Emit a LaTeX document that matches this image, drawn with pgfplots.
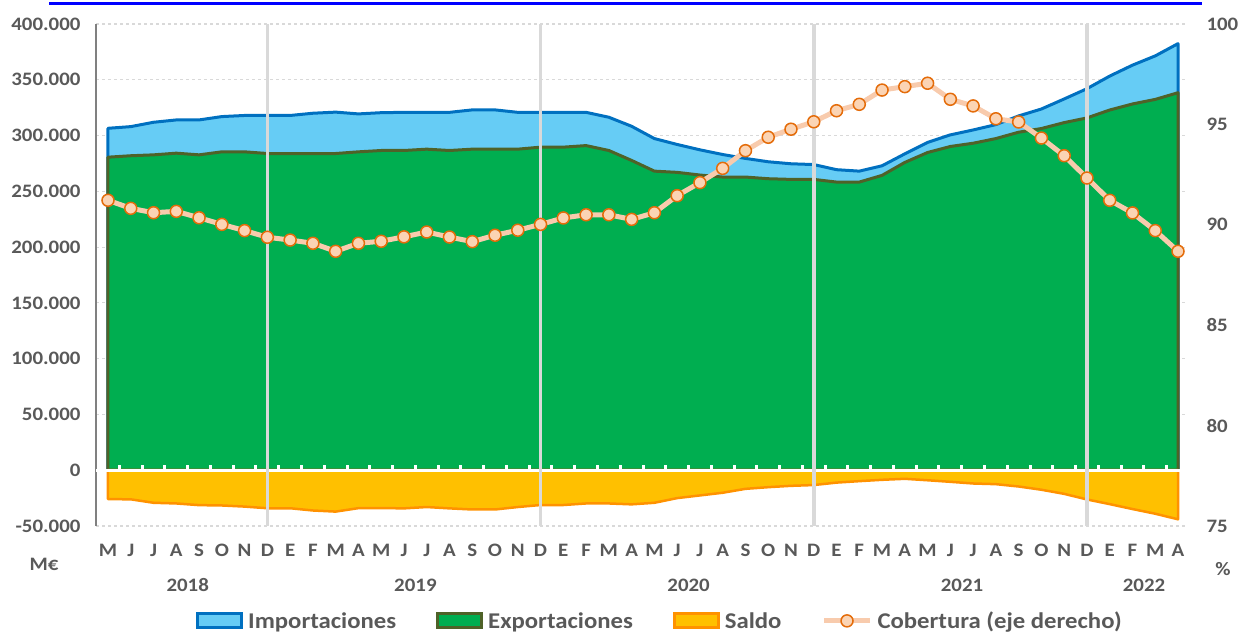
\documentclass[border=0pt]{standalone}
\usepackage{pgfplots}
\pgfplotsset{compat=1.18}
\usepackage{pgfplotstable}
\usepackage{fontspec}
\setmainfont{Carlito}[FakeStretch=1.1]

\definecolor{txt}{HTML}{595959}
\definecolor{impfill}{HTML}{66CCF5}
\definecolor{impline}{HTML}{0070C0}
\definecolor{expfill}{HTML}{00AE50}
\definecolor{expline}{HTML}{4F6228}
\definecolor{salfill}{HTML}{FFC000}
\definecolor{salline}{HTML}{FF9200}
\definecolor{cobline}{HTML}{F8CBAD}
\definecolor{cobfill}{HTML}{FBD4B4}
\definecolor{cobmark}{HTML}{E46C0A}
\definecolor{gridc}{HTML}{D9D9D9}

\pgfplotsset{
  coblegend/.style={legend image code/.code={%
    \draw[mark repeat=2,mark phase=2,##1] plot coordinates {(0pt,0pt) (23pt,0pt) (46pt,0pt)};}},
  boxlegend/.style={legend image code/.code={%
    \draw[##1] (0pt,-7pt) rectangle (44pt,7pt);}},
}

% miles de M€ ; cobertura en %
\pgfplotstableread{
x imp exp saldo cob
0 306.5 280.6 -25.9 91.22
1 308.0 281.9 -26.1 90.82
2 311.9 282.7 -29.2 90.60
3 314.0 284.2 -29.8 90.67
4 314.0 282.7 -31.3 90.35
5 317.0 285.4 -31.6 90.02
6 318.0 285.4 -32.6 89.71
7 318.0 283.9 -34.1 89.38
8 318.0 283.9 -34.1 89.24
9 320.0 283.9 -36.1 89.08
10 321.0 283.9 -37.1 88.68
11 319.4 285.4 -34.0 89.08
12 320.5 286.6 -33.9 89.18
13 320.8 286.6 -34.2 89.40
14 320.8 287.8 -33.0 89.64
15 320.8 286.6 -34.2 89.39
16 323.0 287.8 -35.2 89.16
17 323.0 287.8 -35.2 89.48
18 320.8 287.8 -33.0 89.73
19 320.8 289.6 -31.2 90.02
20 320.8 289.6 -31.2 90.34
21 320.8 291.0 -29.8 90.50
22 316.4 286.6 -29.8 90.50
23 308.3 277.7 -30.6 90.27
24 297.3 268.1 -29.2 90.60
25 292.0 267.0 -25.0 91.45
26 287.2 264.6 -22.6 92.10
27 283.0 262.8 -20.2 92.81
28 279.5 262.8 -16.7 93.69
29 276.5 261.3 -15.2 94.36
30 274.7 260.7 -14.0 94.76
31 274.0 260.7 -13.3 95.13
32 269.4 258.3 -11.1 95.68
33 268.1 258.3 -9.8 96.00
34 272.9 264.3 -8.6 96.71
35 283.6 275.9 -7.7 96.88
36 293.8 284.8 -9.0 97.05
37 300.6 290.2 -10.4 96.25
38 305.0 293.1 -11.9 95.92
39 309.8 297.3 -12.5 95.28
40 317.6 303.0 -14.6 95.12
41 323.8 306.3 -17.5 94.32
42 332.8 311.6 -21.2 93.44
43 342.0 315.8 -26.2 92.33
44 353.3 322.9 -30.4 91.22
45 363.1 328.3 -34.8 90.59
46 371.4 332.4 -39.0 89.71
47 382.4 338.4 -44.0 88.68
}\datatable

\begin{document}
\begin{tikzpicture}[x=1pt,y=1pt]
\path[use as bounding box] (0,0) rectangle (1240,634);
\draw[blue, line width=2.5pt] (49,630.5) -- (1202,630.5);

\pgfplotsset{
  base/.style={
    at={(96pt,108pt)}, anchor=south west,
    scale only axis, width=1091pt, height=502pt,
    xmin=-0.527, xmax=47.395,
    tick label style={font=\fontsize{19}{20}\selectfont\bfseries, text=txt},
    clip=false,
  }
}

\begin{axis}[
  base,
  ymin=-50, ymax=400,
  axis lines*=left,
  x axis line style={draw=none},
  y axis line style={draw=gray, line width=1.2pt},
  xtick={0,...,47},
  xticklabels={M,J,J,A,S,O,N,D,E,F,M,A,M,J,J,A,S,O,N,D,E,F,M,A,M,J,J,A,S,O,N,D,E,F,M,A,M,J,J,A,S,O,N,D,E,F,M,A},
  xticklabel style={yshift=-15pt},
  major x tick style={draw=none},
  ytick={-50,0,...,400},
  yticklabels={-50.000,0,50.000,100.000,150.000,200.000,250.000,300.000,350.000,400.000},
  yticklabel style={xshift=-12pt},
  major y tick style={draw=none},
  ymajorgrids,
  major grid style={dashed, gridc, line width=1.2pt},
]
\addplot[fill=impfill, draw=impline, line width=3pt, line join=round] table[x=x,y=imp]{\datatable} \closedcycle;
\addplot[fill=expfill, draw=expline, line width=3pt, line join=round] table[x=x,y=exp]{\datatable} \closedcycle;
\addplot[fill=salfill, draw=salline, line width=2.5pt, line join=round] table[x=x,y=saldo]{\datatable} \closedcycle;
\addplot[white, line width=3pt, forget plot] coordinates {(-0.527,0) (47.395,0)};
\pgfplotsinvokeforeach{0,...,46}{
  \draw[white, line width=3pt] (axis cs:#1.5,0) -- ([yshift=5pt]axis cs:#1.5,0);
}
\pgfplotsinvokeforeach{7,19,31,43}{
  \addplot[gridc, line width=3.5pt, forget plot] coordinates {(#1,-50) (#1,400)};
}
\end{axis}

\begin{axis}[
  base,
  ymin=75, ymax=100,
  axis y line*=right, axis x line=none,
  y axis line style={draw=none},
  ytick={75,80,...,100},
  yticklabels={75,80,85,90,95,100},
  yticklabel style={xshift=16pt},
  major y tick style={draw=none},
  legend columns=4,
  legend style={at={(0.517,-0.189)}, anchor=center, draw=none, fill=none,
    font=\fontsize{22.5}{24}\selectfont\bfseries, text=txt,
    /tikz/every odd column/.append style={column sep=3pt},
    /tikz/every even column/.append style={column sep=38pt}},
]
\addlegendimage{boxlegend, fill=impfill, draw=impline, line width=3pt}
\addlegendentry{Importaciones}
\addlegendimage{boxlegend, fill=expfill, draw=expline, line width=3pt}
\addlegendentry{Exportaciones}
\addlegendimage{boxlegend, fill=salfill, draw=salline, line width=3pt}
\addlegendentry{Saldo}
\addplot[cobline, line width=5pt, mark=*, mark size=6pt,
  mark options={fill=cobfill, draw=cobmark, line width=1.5pt}, coblegend]
  table[x=x,y=cob]{\datatable};
\addlegendentry{Cobertura (eje derecho)}
\end{axis}

\begin{scope}[every node/.style={font=\fontsize{19}{20}\selectfont\bfseries, text=txt}]
\node at (187.7,49) {2018};
\node at (415.4,49) {2019};
\node at (688.6,49) {2020};
\node at (962.0,49) {2021};
\node at (1144.0,49) {2022};
\node at (44,70) {M€};
\node at (1223,65) {\%};
\end{scope}
\end{tikzpicture}
\end{document}
